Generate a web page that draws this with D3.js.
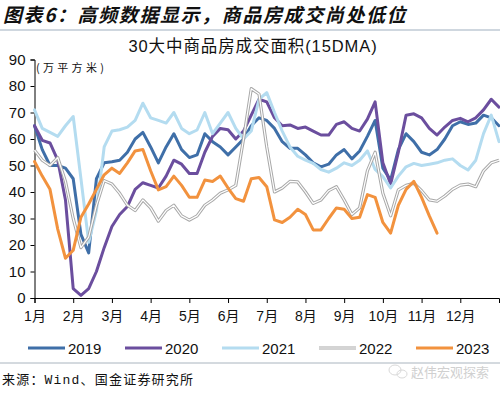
<!DOCTYPE html>
<html>
<head>
<meta charset="utf-8">
<script src="https://cdn.jsdelivr.net/npm/d3@7"></script>
<style>
  html, body { margin: 0; padding: 0; background: #fff; }
  svg { display: block; }
</style>
</head>
<body>
<div id="chart"></div>
<script>
// ── data: 30 大中城市商品房成交面积 (15DMA)，万平方米，每 0.2 个月一个点 ──
const months = ['1月', '2月', '3月', '4月', '5月', '6月', '7月', '8月', '9月', '10月', '11月', '12月'];
const yTicks = [0, 10, 20, 30, 40, 50, 60, 70, 80, 90];
const step = 0.2; // months between samples

const y2019 = [65,56,50,50,49,45,24,17,45,51,51.4,52,55,60,62.5,57,51,57,62,56,53,54,62,59,57,54,57,60,65,68,67,64,59,56.5,56.5,54,51,49.5,50.5,54,56,52.5,55.5,61,67,49,44.5,56,62,59,55,54,56,60,65,66.5,65.5,66,69,68,65];
const y2020 = [65,59.5,58.5,52,37,3.5,1,3.5,10,19,27,31.5,34.5,41,43.5,42.5,41.5,46,52,50.5,47,47,55,61,64,63.5,60,63,69,75,74,68,65,65.3,64,64.5,63,61.5,61.5,65.5,66.5,64,63,67.5,74,51,43,55,69,69.5,68,64,61.5,64.5,67,67.8,66.5,68,71,75,72];
const y2021 = [71,64,62.5,61,65,68.5,45,21,33,57,63,63.5,64.5,67,73.5,68,67,66,70,64,62,63.4,70,62,66,70,64,60,63,75,77.5,70,63,57,53.5,52,50.8,48.5,47.5,49,51,50,52,55.5,48.5,45.8,41.5,46,49.5,50.8,50,50.5,51,52,52.5,50,48.3,52,62,69,59];
const y2022 = [55.8,52,50,53,44,30,19,23,35,44.3,43,39.5,35,33,37,34,29,33,35,31,29.4,31,35,37,39.5,40.8,42.5,60,79,77,57,40,41.5,44,43.8,40,35.7,37,40.5,42,37,31.5,34,48,55,39.5,31,40.8,42.5,43.3,40.5,37,36.5,38.5,41,42.6,43,42,48,51,52];
const y2023 = [51.5,46,41,26,15,18,30.5,35.5,41,46.5,49,47,51,55.5,56,48,40.8,42,46,42.5,38,38,44.5,44,46,41.5,37.5,36.5,45,45.5,42,29.5,28.5,30.5,33.5,31.5,25.7,25.7,30,34,33.5,30,30.5,39,38,28.5,24.5,35,41,44,38,31,24.5];

const seriesNames = ['2019', '2020', '2021', '2022', '2023'];
const seriesValues = [y2019, y2020, y2021, y2022, y2023];
const COLORS = {
  '2019': '#3F6FA8',
  '2020': '#6B4E9E',
  '2021': '#B4DCF0',
  '2022': '#A8A8A8',
  '2023': '#F2923E',
};

const W = 500, H = 394;
const FONT = "'Liberation Sans', Arial, 'Noto Sans CJK SC', sans-serif";
const CJK  = "'Noto Sans CJK SC', sans-serif";

const svg = d3.select('#chart').append('svg')
  .attr('width', W).attr('height', H)
  .attr('viewBox', `0 0 ${W} ${H}`);

// header
svg.append('text')
  .attr('x', 3).attr('y', 22)
  .attr('font-family', CJK).attr('font-size', 19).attr('font-weight', 'bold')
  .attr('font-style', 'italic').attr('letter-spacing', '1.6px')
  .attr('fill', '#111')
  .text('图表6：高频数据显示，商品房成交尚处低位');

svg.append('line')
  .attr('x1', 0).attr('x2', W).attr('y1', 30).attr('y2', 30)
  .attr('stroke', '#9FB0C0').attr('stroke-width', 1.2);

svg.append('text')
  .attr('x', 253).attr('y', 52)
  .attr('text-anchor', 'middle')
  .attr('font-family', FONT).attr('font-size', 16.5).attr('letter-spacing', '0.9px')
  .attr('fill', '#111')
  .text('30大中商品房成交面积(15DMA)');

// scales
const x = d3.scaleLinear([0, 12], [34.5, 499]);
const y = d3.scaleLinear([0, 90], [298, 59.5]);

// axes
const gy = svg.append('g').attr('transform', `translate(${x(0)},0)`)
  .call(d3.axisLeft(y).tickValues(yTicks).tickSize(4).tickPadding(5));
gy.selectAll('text').attr('font-family', FONT).attr('font-size', 15).attr('fill', '#111');

const gx = svg.append('g').attr('transform', `translate(0,${y(0)})`)
  .call(d3.axisBottom(x).tickValues(d3.range(12)).tickSize(5).tickPadding(8)
    .tickFormat(i => months[i]));
gx.selectAll('text').attr('font-family', FONT).attr('font-size', 14).attr('fill', '#111');

svg.selectAll('.domain, .tick line').attr('stroke', '#000').attr('stroke-width', 1);

svg.append('text')
  .attr('x', 36).attr('y', 72)
  .attr('font-family', CJK).attr('font-size', 11).attr('letter-spacing', '3.3px')
  .attr('fill', '#111')
  .text('(万平方米)');

// lines
const line = d3.line()
  .x((d, i) => x(i * step))
  .y(d => y(d));

const plot = svg.append('g');
seriesNames.forEach((name, k) => {
  const vals = seriesValues[k];
  if (name === '2022') {
    plot.append('path').datum(vals)
      .attr('d', line).attr('fill', 'none')
      .attr('stroke', COLORS[name]).attr('stroke-width', 3.2)
      .attr('stroke-linejoin', 'round');
    plot.append('path').datum(vals)
      .attr('d', line).attr('fill', 'none')
      .attr('stroke', '#fff').attr('stroke-width', 1.2)
      .attr('stroke-linejoin', 'round');
  } else {
    plot.append('path').datum(vals)
      .attr('d', line).attr('fill', 'none')
      .attr('stroke', COLORS[name]).attr('stroke-width', 3)
      .attr('stroke-linejoin', 'round').attr('stroke-linecap', 'round');
  }
});

// legend
const legend = svg.append('g');
seriesNames.forEach((name, k) => {
  const lx = 28 + k * 97, ly = 348;
  legend.append('line')
    .attr('x1', lx).attr('x2', lx + 37).attr('y1', ly).attr('y2', ly)
    .attr('stroke', COLORS[name]).attr('stroke-width', name === '2022' ? 3.2 : 3);
  if (name === '2022') {
    legend.append('line')
      .attr('x1', lx).attr('x2', lx + 37).attr('y1', ly).attr('y2', ly)
      .attr('stroke', '#fff').attr('stroke-width', 1.2);
  }
  legend.append('text')
    .attr('x', lx + 40).attr('y', ly + 5.5)
    .attr('font-family', FONT).attr('font-size', 15).attr('fill', '#111')
    .text(name);
});

// footer
svg.append('line')
  .attr('x1', 0).attr('x2', W).attr('y1', 363).attr('y2', 363)
  .attr('stroke', '#A9B4BE').attr('stroke-width', 1);

svg.append('text')
  .attr('x', 2).attr('y', 384)
  .attr('font-family', "'Liberation Mono', 'Noto Sans CJK SC', monospace").attr('font-size', 13)
  .attr('letter-spacing', '1.2px')
  .attr('fill', '#111')
  .text('来源：Wind、国金证券研究所');

// watermark
const wm = svg.append('g').attr('opacity', 0.55);
wm.append('ellipse').attr('cx', 395).attr('cy', 370).attr('rx', 6).attr('ry', 5)
  .attr('fill', 'none').attr('stroke', '#bbb').attr('stroke-width', 1);
wm.append('ellipse').attr('cx', 402).attr('cy', 374).attr('rx', 5).attr('ry', 4)
  .attr('fill', 'none').attr('stroke', '#bbb').attr('stroke-width', 1);
wm.append('text')
  .attr('x', 411).attr('y', 377)
  .attr('font-family', CJK).attr('font-size', 13).attr('fill', '#aaa')
  .text('赵伟宏观探索');
</script>
</body>
</html>
